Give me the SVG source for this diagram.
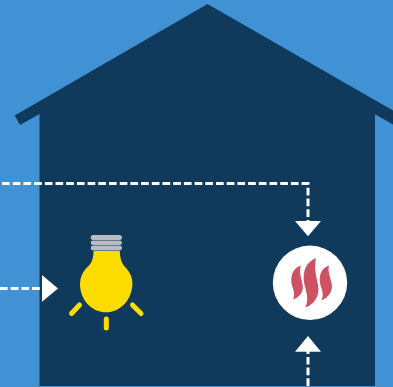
<svg xmlns="http://www.w3.org/2000/svg" width="393" height="387" viewBox="0 0 393 387">
<style>
.dash{fill:none;stroke:#fff;stroke-width:3;stroke-dasharray:7.7 3}
.tip{fill:#fff}
.ray{fill:none;stroke:#fddc00;stroke-width:5;stroke-linecap:round}
.cap{fill:#b9bcc0}
.flame{fill:#cd5263}
</style>
<rect width="393" height="387" fill="#4191d5"/>
<g id="house">
<path d="M207.5 4L393 110.5V124.6L375 114.3V386H39.5V114L20 125L14.7 115.5Z" fill="#0f3a5c"/>
</g>
<g id="connectors">
<path class="dash" d="M2 183.5H308V221"/>
<path class="tip" d="M295 221H321L308 236.3Z"/>
<path class="dash" d="M308 386V351"/>
<path class="tip" d="M295 351.7H321L308 336Z"/>
<path class="dash" d="M0 288.5H42"/>
<path class="tip" d="M42 275L58 288.5L42 301.7Z"/>
</g>
<g id="bulb">
<rect class="cap" x="90.7" y="235" width="31.3" height="5" rx="2.5"/>
<rect class="cap" x="90.7" y="240.5" width="31.3" height="4.6" rx="2.3"/>
<rect class="cap" x="90.7" y="245.6" width="31.3" height="4.8" rx="2.4"/>
<path d="M93.7 251H119.7C120.5 262 122.5 264 126.5 268.5C130.5 273 132.5 278 132.4 284C132 300 120 312.3 106.2 312.3C92 312.3 80 300 80 284C80 278 82 273 86 268.5C90.5 264 93 262 93.7 251Z" fill="#fddc00"/>
<path class="ray" d="M79.5 305L71.5 313.5"/>
<path class="ray" d="M132.5 305L141 313.5"/>
<path class="ray" d="M106.3 319V328"/>
</g>
<g id="heater">
<circle cx="310" cy="282.8" r="37.2" fill="#fff"/>
<path class="flame" d="M316 258C306 262 302.5 271 304 282C305.5 291 309.5 297 305.5 307.5C314.5 304 320 296 318 285C316 275 314 268 316 258Z"/>
<path class="flame" d="M300.8 265.5C293 268 290.5 276 291.5 283C292.5 289 296 293 293 299.5C300.5 297 304 291 302.5 284C301 277 299 272 300.8 265.5Z"/>
<path class="flame" d="M329 265.5C321 268 318.8 276 320 283C321.2 289 324.5 293 321.5 300.5C329 297 333 291 331.7 284C330.5 277 327.5 272 329 265.5Z"/>
</g>
</svg>
